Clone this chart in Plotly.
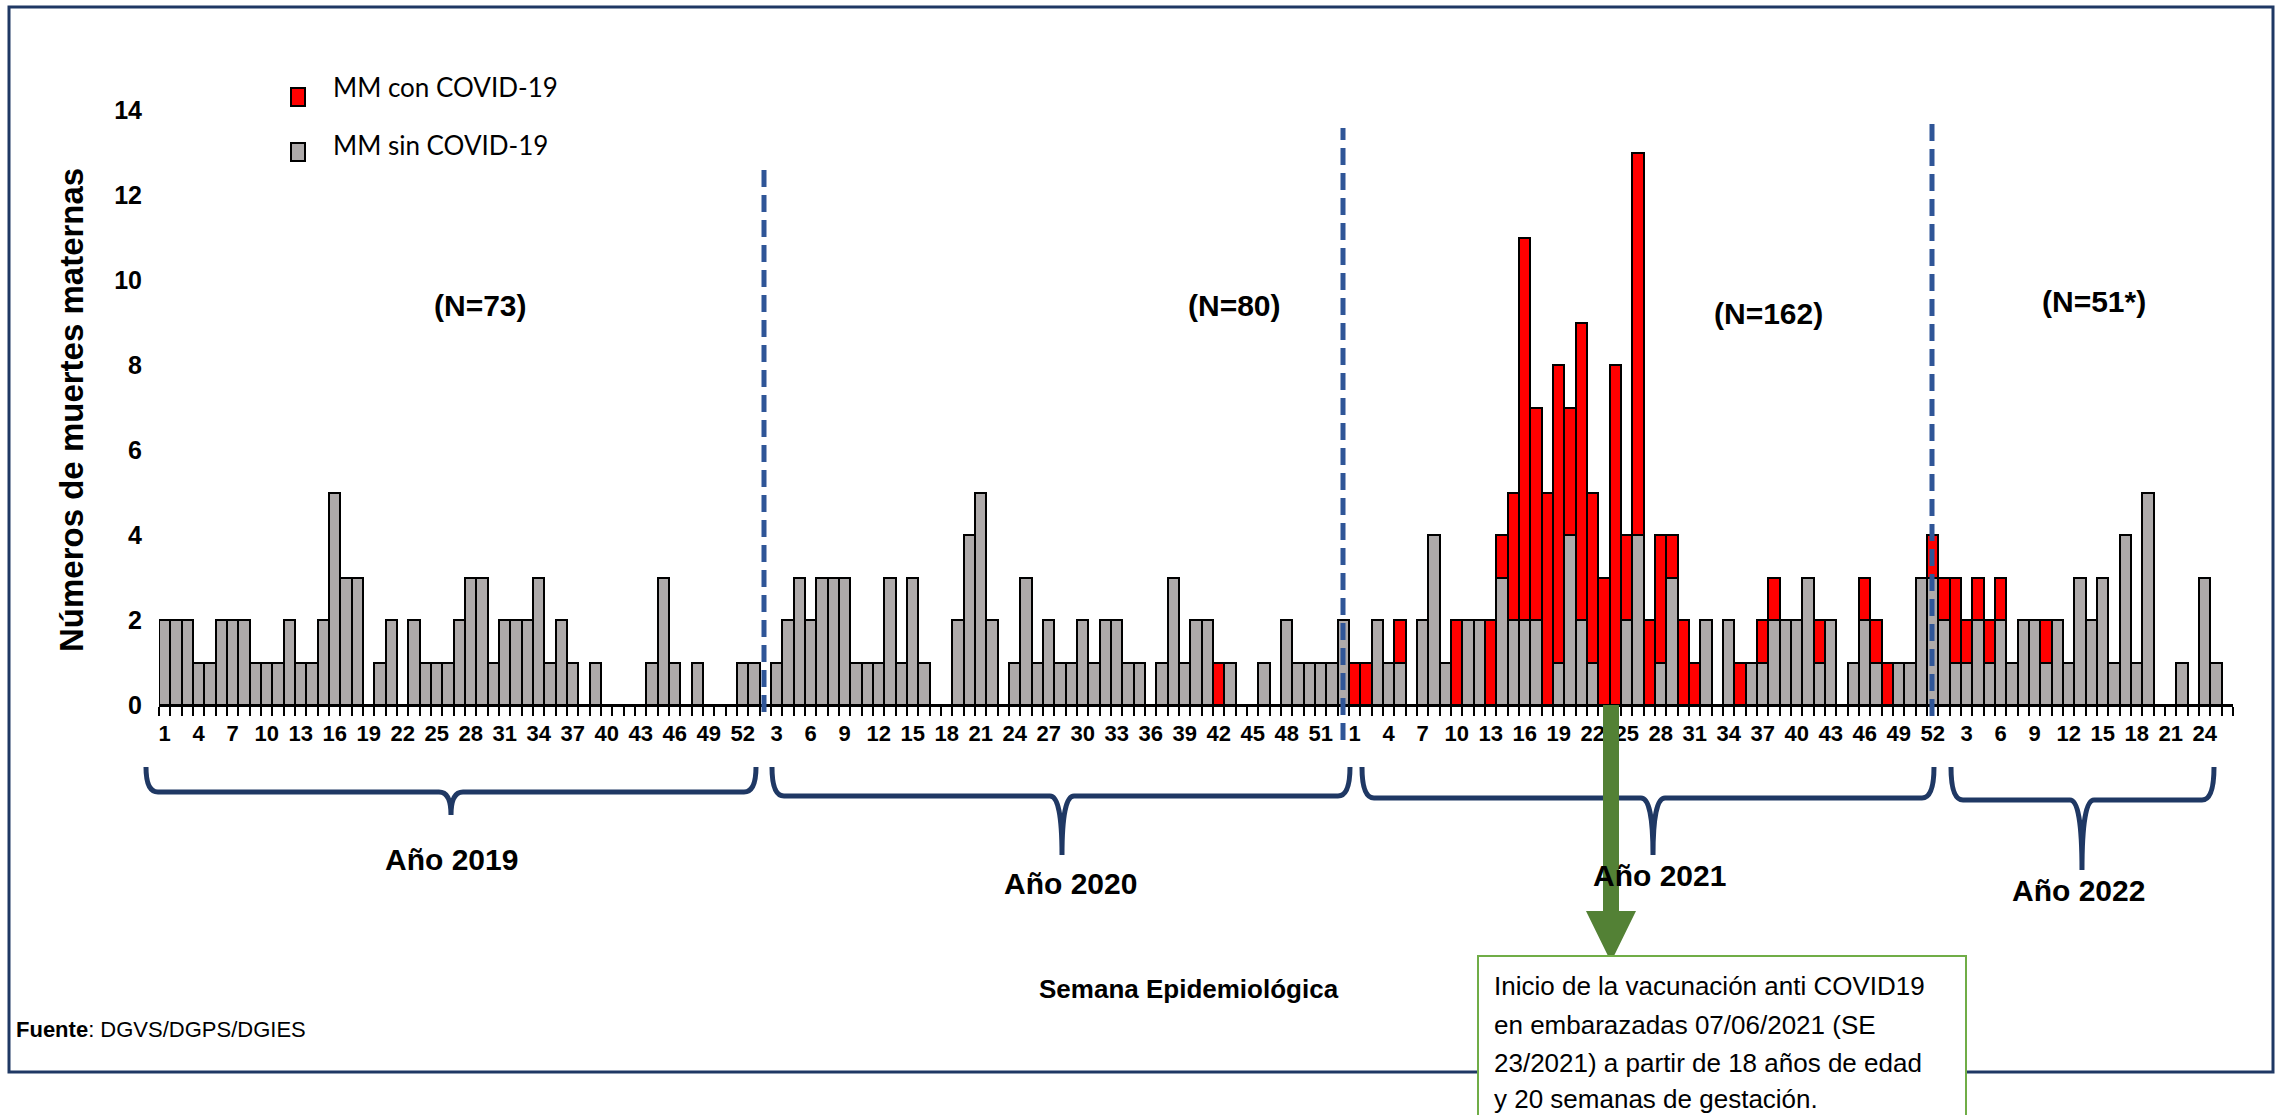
import plotly.graph_objects as go

# ---------------- data ----------------
years = ["2019", "2020", "2021", "2022"]
weeks_2019 = list(range(1, 53))
weeks_2020 = list(range(1, 54))
weeks_2021 = list(range(1, 53))
weeks_2022 = list(range(1, 27))

sin_2019 = [2, 2, 2, 1, 1, 2, 2, 2, 1, 1,
            1, 2, 1, 1, 2, 5, 3, 3, 0, 1,
            2, 0, 2, 1, 1, 1, 2, 3, 3, 1,
            2, 2, 2, 3, 1, 2, 1, 0, 1, 0,
            0, 0, 0, 1, 3, 1, 0, 1, 0, 0,
            0, 1]
con_2019 = [0, 0, 0, 0, 0, 0, 0, 0, 0, 0,
            0, 0, 0, 0, 0, 0, 0, 0, 0, 0,
            0, 0, 0, 0, 0, 0, 0, 0, 0, 0,
            0, 0, 0, 0, 0, 0, 0, 0, 0, 0,
            0, 0, 0, 0, 0, 0, 0, 0, 0, 0,
            0, 0]
sin_2020 = [1, 0, 1, 2, 3, 2, 3, 3, 3, 1,
            1, 1, 3, 1, 3, 1, 0, 0, 2, 4,
            5, 2, 0, 1, 3, 1, 2, 1, 1, 2,
            1, 2, 2, 1, 1, 0, 1, 3, 1, 2,
            2, 0, 1, 0, 0, 1, 0, 2, 1, 1,
            1, 1, 2]
con_2020 = [0, 0, 0, 0, 0, 0, 0, 0, 0, 0,
            0, 0, 0, 0, 0, 0, 0, 0, 0, 0,
            0, 0, 0, 0, 0, 0, 0, 0, 0, 0,
            0, 0, 0, 0, 0, 0, 0, 0, 0, 0,
            0, 1, 0, 0, 0, 0, 0, 0, 0, 0,
            0, 0, 0]
sin_2021 = [0, 0, 2, 1, 1, 0, 2, 4, 1, 0,
            2, 2, 0, 3, 2, 2, 2, 0, 1, 4,
            2, 1, 0, 0, 2, 4, 0, 1, 3, 0,
            0, 2, 0, 2, 0, 1, 1, 2, 2, 2,
            3, 1, 2, 0, 1, 2, 1, 0, 1, 1,
            3, 3]
con_2021 = [1, 1, 0, 0, 1, 0, 0, 0, 0, 2,
            0, 0, 2, 1, 3, 9, 5, 5, 7, 3,
            7, 4, 3, 8, 2, 9, 2, 3, 1, 2,
            1, 0, 0, 0, 1, 0, 1, 1, 0, 0,
            0, 1, 0, 0, 0, 1, 1, 1, 0, 0,
            0, 1]
sin_2022 = [2, 1, 1, 2, 1, 2, 1, 2, 2, 1,
            2, 1, 3, 2, 3, 1, 4, 1, 5, 0,
            0, 1, 0, 3, 1, 0]
con_2022 = [1, 2, 1, 1, 1, 1, 0, 0, 0, 1,
            0, 0, 0, 0, 0, 0, 0, 0, 0, 0,
            0, 0, 0, 0, 0, 0]

series_names = ["MM con COVID-19", "MM sin COVID-19"]
n_labels = ["(N=73)", "(N=80)", "(N=162)", "(N=51*)"]
year_labels = ["Año 2019", "Año 2020", "Año 2021", "Año 2022"]
y_ticks = [0, 2, 4, 6, 8, 10, 12, 14]
note_lines = ["Inicio de la vacunación anti COVID19",
              "en embarazadas 07/06/2021 (SE",
              "23/2021) a partir de 18 años de edad",
              "y 20 semanas de gestación."]

# ---------------- build categories ----------------
weeks_by_year = [weeks_2019, weeks_2020, weeks_2021, weeks_2022]
categories, week_text = [], []
for yr, wks in zip(years, weeks_by_year):
    for w in wks:
        categories.append(f"{yr}-S{w:02d}")
        week_text.append(str(w))
sin_all = sin_2019 + sin_2020 + sin_2021 + sin_2022
con_all = con_2019 + con_2020 + con_2021 + con_2022
n = len(categories)
tick_text = [t if i % 3 == 0 else "" for i, t in enumerate(week_text)]

# ---------------- geometry helpers (pixel -> paper) ----------------
W, H = 2280, 1115
ML, MR, MT, MB = 159, 47, 110, 410
PW, PH = W - ML - MR, H - MT - MB
PB = H - MB


def fx(px):
    return (px - ML) / PW


def fy(py):
    return (PB - py) / PH


NAVY = "#1F3864"
GREY = "#AEAAAA"
RED = "#FF0000"
BLUE = "#2F5597"
GREEN = "#538135"
FONT = "Liberation Sans, Arial, sans-serif"
NARROW = "Liberation Sans Narrow, Arial Narrow, Liberation Sans, Arial, sans-serif"
LEG_FONT = "Lato, Open Sans, sans-serif"

fig = go.Figure()
fig.add_trace(go.Bar(x=categories, y=sin_all, name=series_names[1],
                     marker=dict(color=GREY, line=dict(color="black", width=2))))
fig.add_trace(go.Bar(x=categories, y=con_all, name=series_names[0],
                     marker=dict(color=RED, line=dict(color="black", width=2))))

shapes = []
# outer frame
shapes.append(dict(type="rect", xref="paper", yref="paper",
                   x0=fx(9), x1=fx(2273), y0=fy(1072), y1=fy(7),
                   line=dict(color=NAVY, width=3), fillcolor="rgba(0,0,0,0)", layer="above"))
# dashed separators
for xp, ytop, ybot in [(764, 170, 712), (1343, 128, 740), (1932, 119, 716)]:
    shapes.append(dict(type="line", xref="paper", yref="paper",
                       x0=fx(xp), x1=fx(xp), y0=fy(ybot), y1=fy(ytop),
                       line=dict(color=BLUE, width=5, dash="17px,8px"), layer="above"))


def brace(x0, x1, xc, ytop, yband, ytip, r=12):
    def p(a, b):
        return f"{fx(a):.5f},{fy(b):.5f}"
    return ("M " + p(x0, ytop) + " Q " + p(x0, yband) + " " + p(x0 + r, yband) +
            " L " + p(xc - r, yband) + " Q " + p(xc, yband) + " " + p(xc, ytip) +
            " Q " + p(xc, yband) + " " + p(xc + r, yband) +
            " L " + p(x1 - r, yband) + " Q " + p(x1, yband) + " " + p(x1, ytop))


for b in [(146, 756, 451, 767, 792, 815), (772, 1350, 1062, 767, 796, 855),
          (1362, 1934, 1653, 767, 798, 855), (1951, 2214, 2082, 767, 800, 870)]:
    shapes.append(dict(type="path", xref="paper", yref="paper", path=brace(*b),
                       line=dict(color=NAVY, width=5), layer="above"))

# green arrow
pts = [(1603, 705), (1619, 705), (1619, 911), (1636, 911), (1611, 962), (1586, 911), (1603, 911)]
arrow_path = "M " + " L ".join(f"{fx(a):.5f},{fy(b):.5f}" for a, b in pts) + " Z"
shapes.append(dict(type="path", xref="paper", yref="paper", path=arrow_path,
                   fillcolor=GREEN, line=dict(width=0), layer="above"))
# note box
shapes.append(dict(type="rect", xref="paper", yref="paper",
                   x0=fx(1478), x1=fx(1966), y0=fy(1140), y1=fy(956),
                   fillcolor="white", line=dict(color="#70AD47", width=2), layer="above"))
# manual legend swatches
for (cy, col) in [(97, RED), (152, GREY)]:
    shapes.append(dict(type="rect", xref="paper", yref="paper",
                       x0=fx(291), x1=fx(305), y0=fy(cy + 9), y1=fy(cy - 9),
                       fillcolor=col, line=dict(color="black", width=2), layer="above"))

ann = []
for t, yp in zip(series_names, [87, 145]):
    ann.append(dict(text=t, x=fx(331), y=fy(yp), xref="paper", yref="paper",
                    xanchor="left", yanchor="middle", showarrow=False,
                    font=dict(family=LEG_FONT, size=26, color="black")))
ann.append(dict(text="Números de muertes maternas", textangle=-90, x=fx(71), y=fy(410),
                xref="paper", yref="paper", xanchor="center", yanchor="middle", showarrow=False,
                font=dict(family=FONT, size=33, color="black", weight="bold")))
for t, (xp, yp) in zip(n_labels, [(480, 305), (1234, 305), (1768, 313), (2094, 301)]):
    ann.append(dict(text=t, x=fx(xp), y=fy(yp), xref="paper", yref="paper",
                    xanchor="center", yanchor="middle", showarrow=False,
                    font=dict(family=FONT, size=30, color="black", weight="bold")))
for t, (xp, yp) in zip(year_labels, [(451, 859), (1070, 883), (1659, 876), (2078, 890)]):
    ann.append(dict(text=t, x=fx(xp), y=fy(yp), xref="paper", yref="paper",
                    xanchor="center", yanchor="middle", showarrow=False,
                    font=dict(family=FONT, size=30, color="black", weight="bold")))
ann.append(dict(text="Semana Epidemiológica", x=fx(1189), y=fy(989), xref="paper", yref="paper",
                xanchor="center", yanchor="middle", showarrow=False,
                font=dict(family=FONT, size=26, color="black", weight="bold")))
ann.append(dict(text="<b>Fuente</b>: DGVS/DGPS/DGIES", x=fx(14), y=fy(1029), xref="paper",
                yref="paper", xanchor="left", yanchor="middle", showarrow=False,
                font=dict(family=FONT, size=22, color="black")))
for t, yp in zip(note_lines, [986, 1025, 1063, 1099]):
    ann.append(dict(text=t, x=fx(1492), y=fy(yp), xref="paper", yref="paper",
                    xanchor="left", yanchor="middle", align="left", showarrow=False,
                    font=dict(family=FONT, size=26, color="black")))

fig.update_layout(
    width=W, height=H, margin=dict(l=ML, r=MR, t=MT, b=MB),
    paper_bgcolor="white", plot_bgcolor="white",
    barmode="stack", bargap=0,
    shapes=shapes, annotations=ann,
    showlegend=False,
    xaxis=dict(type="category", categoryorder="array", categoryarray=categories,
               range=[-0.5, n - 0.5], tickmode="array", tickvals=categories, ticktext=tick_text,
               tickson="boundaries", ticks="outside", ticklen=9, tickwidth=1.5, tickcolor="black",
               tickangle=0, ticklabelstandoff=8,
               tickfont=dict(family=NARROW, size=22, color="black", weight="bold"),
               showline=True, linecolor="black", linewidth=1.5, showgrid=False, zeroline=False),
    yaxis=dict(range=[0, 14], tickmode="array", tickvals=y_ticks, ticks="",
               ticklabelstandoff=16,
               tickfont=dict(family=FONT, size=25, color="black", weight="bold"),
               showline=False, showgrid=False, zeroline=False),
)

fig.write_html("out.html", config={"displayModeBar": False},
               post_script="document.body.style.margin='0';document.body.style.overflow='hidden';")
